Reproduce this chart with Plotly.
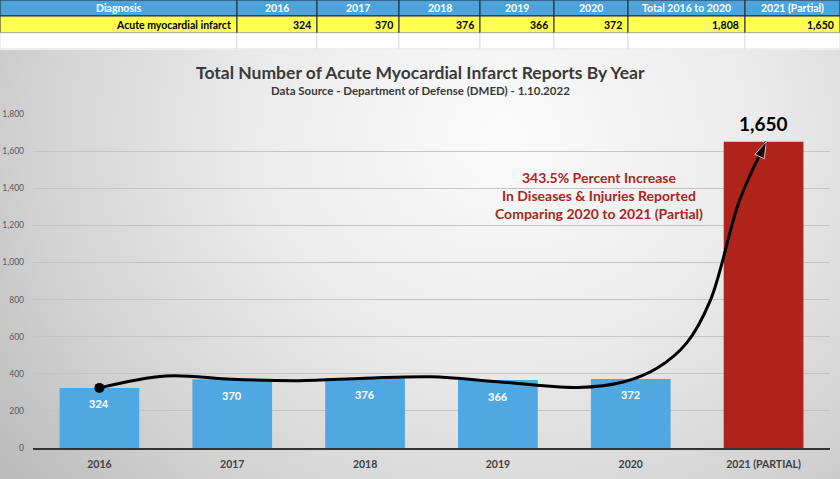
import base64
import plotly.graph_objects as go

# ---- data ----
YEARS = ["2016", "2017", "2018", "2019", "2020", "2021 (PARTIAL)"]
REPORTS = [324, 370, 376, 366, 372, 1650]
TABLE_HEADERS = ["Diagnosis", "2016", "2017", "2018", "2019", "2020", "Total 2016 to 2020", "2021 (Partial)"]
DIAGNOSIS = "Acute myocardial infarct"
TOTAL_2016_2020 = 1808
# hand-drawn trend arrow (category index, value)
CURVE_X = [0, 0.5, 1.0, 1.5, 2.0, 2.5, 3.0, 3.6, 3.95, 4.2, 4.42, 4.6, 4.82, 5.02]
CURVE_Y = [324, 388, 370, 363, 376, 384, 357, 326, 357, 431, 565, 797, 1336, 1650]
TITLE = "Total Number of Acute Myocardial Infarct Reports By Year"
SUBTITLE = "Data Source - Department of Defense (DMED) - 1.10.2022"
CALLOUT = "343.5% Percent Increase<br>In Diseases & Injuries Reported<br>Comparing 2020 to 2021 (Partial)"

W, H = 840, 479
FONT = "Lato"

def py(p):
    return 1 - p / H

def px(p):
    return p / W

fig = go.Figure()
shapes = []
annotations = []

# background gradient as svg image
svg = '''<svg xmlns="http://www.w3.org/2000/svg" width="840" height="429" viewBox="0 0 840 429" preserveAspectRatio="none">
<defs><radialGradient id="g" cx="0.6" cy="0.2" r="0.75" gradientTransform="translate(0.6 0.2) scale(1 1.7) translate(-0.6 -0.2)">
<stop offset="0" stop-color="#fbfbfb"/><stop offset="0.4" stop-color="#ebebeb"/><stop offset="0.75" stop-color="#d2d2d2"/><stop offset="1" stop-color="#bbbbbb"/></radialGradient></defs>
<rect width="840" height="429" fill="url(#g)"/></svg>'''
uri = "data:image/svg+xml;base64," + base64.b64encode(svg.encode()).decode()
fig.add_layout_image(dict(source=uri, xref="paper", yref="paper", x=0, y=py(50), sizex=1, sizey=py(50),
                          xanchor="left", yanchor="top", sizing="stretch", layer="below"))

# ---- table drawn with shapes / annotations ----
COL_W = [237, 80, 82, 81, 74, 74, 117, 95]
ROW_EDGES = [0, 16, 33, 49]
fmt = lambda v: f"{v:,}"
row_vals = [DIAGNOSIS] + [fmt(v) for v in REPORTS[:5]] + [fmt(TOTAL_2016_2020), fmt(REPORTS[5])]
x0 = 0
for j, w in enumerate(COL_W):
    x1 = x0 + w
    shapes.append(dict(type="rect", xref="paper", yref="paper", x0=px(x0), x1=px(x1), y0=py(ROW_EDGES[1]), y1=py(ROW_EDGES[0]),
                       fillcolor="#4DA4DC", line=dict(color="#1e2a36", width=1), layer="above"))
    shapes.append(dict(type="rect", xref="paper", yref="paper", x0=px(x0), x1=px(x1), y0=py(ROW_EDGES[2]), y1=py(ROW_EDGES[1]),
                       fillcolor="#FFFF52", line=dict(color="#1e2a36", width=1), layer="above"))
    shapes.append(dict(type="rect", xref="paper", yref="paper", x0=px(x0), x1=px(x1), y0=py(ROW_EDGES[3]), y1=py(ROW_EDGES[2]),
                       fillcolor="white", line=dict(color="#dddddd", width=1), layer="above"))
    annotations.append(dict(text=f"<b>{TABLE_HEADERS[j]}</b>", x=px((x0 + x1) / 2), y=py(8), xref="paper", yref="paper",
                            xanchor="center", yanchor="middle", showarrow=False,
                            font=dict(size=10.5, color="white", family=FONT)))
    annotations.append(dict(text=f"<b>{row_vals[j]}</b>", x=px(x1 - 4), y=py(25), xref="paper", yref="paper",
                            xanchor="right", yanchor="middle", showarrow=False,
                            font=dict(size=10.5, color="black", family=FONT)))
    x0 = x1

x_idx = list(range(len(YEARS)))
colors = ["#4FA8E2"] * 5 + ["#B0231B"]
fig.add_trace(go.Bar(x=x_idx, y=REPORTS, width=0.6, marker=dict(color=colors, line=dict(width=0)),
                     hoverinfo="skip", showlegend=False))

fig.add_trace(go.Scatter(x=CURVE_X, y=CURVE_Y, mode="lines", line=dict(color="black", width=3, shape="spline", smoothing=1.0),
                         hoverinfo="skip", showlegend=False))
fig.add_trace(go.Scatter(x=CURVE_X[:1], y=CURVE_Y[:1], mode="markers", marker=dict(color="black", size=10),
                         hoverinfo="skip", showlegend=False))
fig.add_trace(go.Scatter(x=CURVE_X[-2:], y=CURVE_Y[-2:], mode="markers",
                         marker=dict(color="black", size=[0, 17], symbol="arrow", angleref="previous"),
                         hoverinfo="skip", showlegend=False))

annotations += [
    dict(text=f"<b>{TITLE}</b>", x=0.5, y=py(72), xref="paper", yref="paper", showarrow=False,
         xanchor="center", yanchor="middle", font=dict(size=17.5, color="#3a3a3a", family=FONT)),
    dict(text=f"<b>{SUBTITLE}</b>", x=0.5, y=py(90), xref="paper", yref="paper", showarrow=False,
         xanchor="center", yanchor="middle", font=dict(size=11.5, color="#3a3a3a", family=FONT)),
    dict(text=f"<b>{CALLOUT}</b>", x=px(599), y=py(195), xref="paper", yref="paper", showarrow=False,
         xanchor="center", yanchor="middle", font=dict(size=14, color="#A8271E", family=FONT), align="center"),
    dict(text=f"<b>{fmt(REPORTS[5])}</b>", x=5, y=REPORTS[5], xref="x", yref="y", showarrow=False,
         yshift=18, font=dict(size=19, color="black", family=FONT)),
]
for i, v in enumerate(REPORTS[:5]):
    annotations.append(dict(text=f"<b>{v}</b>", x=i, y=v, xref="x", yref="y", showarrow=False, yshift=-16,
                            font=dict(size=11, color="white", family=FONT)))

fig.update_layout(
    width=W, height=H, margin=dict(l=0, r=0, t=0, b=0),
    paper_bgcolor="white", plot_bgcolor="rgba(0,0,0,0)",
    font=dict(family=FONT),
    annotations=annotations, shapes=shapes,
    xaxis=dict(domain=[px(33), px(830)], range=[-0.5, 5.5], tickmode="array", tickvals=x_idx,
               ticktext=[f"<b>{y}</b>" for y in YEARS], tickfont=dict(size=10.5, color="#404040"),
               showline=True, linecolor="#333333", linewidth=1.5, showgrid=False, zeroline=False,
               ticks="", ticklabelstandoff=6, automargin=False, fixedrange=True),
    yaxis=dict(domain=[py(448), py(114)], range=[0, 1800], tickvals=list(range(0, 1801, 200)),
               tickformat=",", tickfont=dict(size=8.5, color="#595959"), gridcolor="#c4c4c4", gridwidth=1,
               zeroline=False, showline=False, ticks="", ticklabelstandoff=8, automargin=False, fixedrange=True),
)

fig.write_html("out.html", config={"displayModeBar": False}, post_script="document.body.style.margin='0';")
